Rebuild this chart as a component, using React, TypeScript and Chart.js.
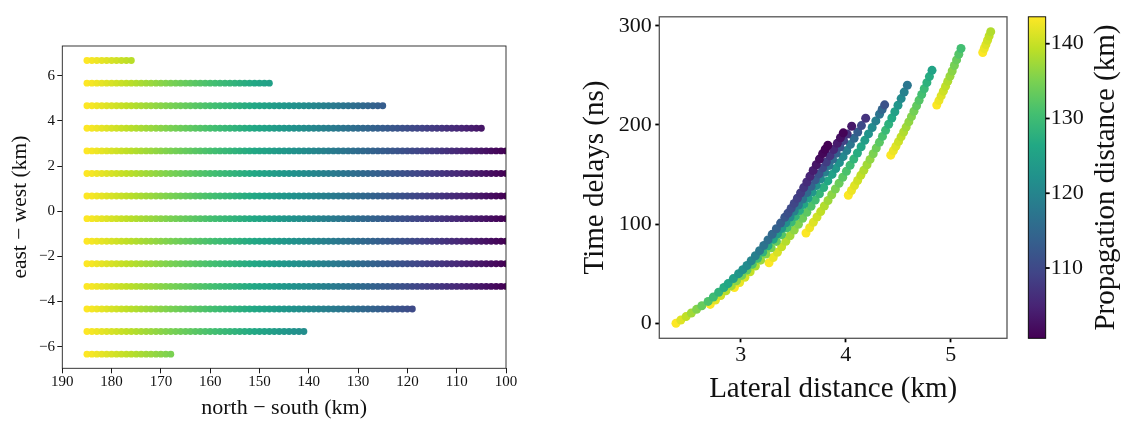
import React, { useEffect, useRef } from 'react';
import { Chart, registerables } from 'chart.js';

Chart.register(...registerables);

// ---------------- Left panel data ----------------
const rowEastWest = [6.67, 5.67, 4.67, 3.67, 2.67, 1.67, 0.67, -0.33, -1.33, -2.33, -3.33, -4.33, -5.33, -6.33];
const rowNorthSouthEnd = [176, 148, 125, 105, 100, 100, 100, 100, 100, 100, 100, 119, 141, 168];
const northSouthSamples = [
  185, 184, 183, 182, 181, 180, 179, 178, 177, 176, 175, 174, 173, 172, 171, 170, 169, 168, 167, 166,
  165, 164, 163, 162, 161, 160, 159, 158, 157, 156, 155, 154, 153, 152, 151, 150, 149, 148, 147, 146,
  145, 144, 143, 142, 141, 140, 139, 138, 137, 136, 135, 134, 133, 132, 131, 130, 129, 128, 127, 126,
  125, 124, 123, 122, 121, 120, 119, 118, 117, 116, 115, 114, 113, 112, 111, 110, 109, 108, 107, 106,
  105, 104, 103, 102, 101, 100,
];
const leftXTicks = [190, 180, 170, 160, 150, 140, 130, 120, 110, 100];
const leftYTicks = [-6, -4, -2, 0, 2, 4, 6];

// ---------------- Right panel data (lateral km, delay ns, propagation km) ----------------
const curveALat = [5.305, 5.32, 5.335, 5.351, 5.366, 5.381];
const curveADelay = [273, 277, 281, 285.3, 289.6, 294];
const curveAProp = [143.5, 142.5, 141.5, 140.5, 139.5, 138.5];

const curveBLat = [4.867, 4.888, 4.909, 4.93, 4.951, 4.972, 4.993, 5.014, 5.035, 5.056, 5.077, 5.098];
const curveBDelay = [220, 224.5, 229.2, 234, 238.9, 243.9, 249.1, 254.4, 259.9, 265.5, 271.2, 277];
const curveBProp = [143.5, 142.5, 141.5, 140.5, 139.5, 138.5, 137, 136, 134.5, 133.5, 132, 130.5];

const curveCLat = [4.429, 4.454, 4.478, 4.503, 4.527, 4.552, 4.576, 4.601, 4.626, 4.65, 4.675, 4.699, 4.724, 4.748, 4.773, 4.797, 4.822];
const curveCDelay = [169.5, 173.9, 178.4, 183.1, 187.9, 192.8, 197.8, 203, 208.3, 213.7, 219.2, 224.8, 230.6, 236.5, 242.6, 248.7, 255];
const curveCProp = [143.5, 142.5, 141.5, 140.5, 139.5, 138.5, 137.5, 136.5, 135.5, 134.5, 133, 132, 130.5, 129.5, 128, 127, 125.5];

const curveDLat = [4.025, 4.055, 4.084, 4.114, 4.144, 4.173, 4.203, 4.232, 4.262, 4.291, 4.321, 4.35, 4.38, 4.409, 4.439, 4.468, 4.498, 4.528, 4.557, 4.587];
const curveDDelay = [129, 133.8, 138.8, 143.9, 149.1, 154.3, 159.8, 165.2, 170.9, 176.6, 182.4, 188.4, 194.5, 200.6, 206.9, 213.3, 219.8, 226.5, 233.1, 240];
const curveDProp = [143.5, 142.5, 141.5, 140.5, 139.5, 138.5, 137.5, 136.5, 135, 134, 132.5, 131, 129.5, 128, 126.5, 125, 123, 121, 119.5, 117.5];

const curveELat = [3.622, 3.657, 3.692, 3.727, 3.762, 3.797, 3.832, 3.867, 3.902, 3.937, 3.972, 4.007, 4.042, 4.077, 4.112, 4.147, 4.182, 4.217, 4.252, 4.287, 4.322, 4.347, 4.371];
const curveEDelay = [91, 96.3, 101.7, 107.1, 112.6, 118.2, 123.8, 129.6, 135.4, 141.2, 147.2, 153.2, 159.3, 165.5, 171.7, 178, 184.4, 190.9, 197.4, 204, 210.7, 215.5, 220.2];
const curveEProp = [143.5, 142.5, 141.5, 140.5, 139.5, 138.5, 137.3, 136.1, 134.9, 133.7, 132.5, 131.2, 129.9, 128.6, 127.2, 125.8, 124.3, 122.7, 121, 119.1, 117, 114.5, 111.5];

const curveFLat = [3.27, 3.31, 3.35, 3.39, 3.43, 3.47, 3.51, 3.55, 3.59, 3.63, 3.67, 3.71, 3.75, 3.79, 3.83, 3.87, 3.905, 3.94, 3.975, 4.01, 4.045, 4.08, 4.115, 4.15, 4.19];
const curveFDelay = [61, 66.3, 71.6, 77, 82.6, 88.2, 94, 99.8, 105.8, 111.8, 117.9, 124.2, 130.5, 136.9, 143.5, 150.1, 156, 161.9, 168, 174.1, 180.3, 186.5, 192.8, 199.3, 206.7];
const curveFProp = [143.5, 142.3, 141.1, 139.9, 138.7, 137.5, 136.3, 135.1, 133.9, 132.7, 131.5, 130.2, 128.9, 127.6, 126.3, 125, 123.6, 122.2, 120.6, 119, 117.3, 115.3, 113, 110.2, 107];

const curveGLat = [2.94, 2.99, 3.04, 3.09, 3.14, 3.19, 3.24, 3.29, 3.34, 3.39, 3.44, 3.48, 3.52, 3.56, 3.6, 3.64, 3.68, 3.72, 3.76, 3.8, 3.84, 3.875, 3.91, 3.945, 3.98, 4.015, 4.057];
const curveGDelay = [36, 41.1, 46.4, 51.9, 57.6, 63.6, 69.7, 76, 82.5, 89.3, 96.2, 101.9, 107.7, 113.7, 119.8, 126, 132.3, 138.8, 145.4, 152.2, 159.1, 165.2, 171.4, 177.7, 184.1, 190.7, 198.6];
const curveGProp = [143.5, 142.3, 141, 139.7, 138.4, 137.1, 135.8, 134.5, 133.2, 131.9, 130.6, 129.5, 128.3, 127.1, 125.9, 124.6, 123.3, 122, 120.5, 119, 117.3, 115.5, 113.5, 111.3, 109, 106.5, 103.5];

const curveHLat = [2.71, 2.76, 2.81, 2.86, 2.91, 2.96, 3.01, 3.06, 3.11, 3.16, 3.21, 3.26, 3.31, 3.35, 3.39, 3.43, 3.47, 3.51, 3.55, 3.59, 3.63, 3.67, 3.71, 3.745, 3.78, 3.815, 3.85, 3.885, 3.92, 3.95, 3.977];
const curveHDelay = [19, 23.4, 27.9, 32.7, 37.6, 42.8, 48.2, 53.7, 59.5, 65.5, 71.7, 78.1, 84.7, 90.1, 95.6, 101.3, 107.1, 113.1, 119.1, 125.3, 131.7, 138.1, 144.7, 150.6, 156.6, 162.6, 168.8, 175.1, 181.4, 187, 192];
const curveHProp = [143.5, 142, 140.5, 139, 137.5, 136, 134.5, 133, 131.5, 130, 128.5, 127, 125.5, 124.3, 123, 121.8, 120.5, 119.3, 118, 116.7, 115.4, 114, 112.6, 111.2, 109.8, 108.3, 106.8, 105.3, 103.8, 102.4, 101];

const curveILat = [2.384, 2.43, 2.48, 2.53, 2.58, 2.63, 2.69, 2.74, 2.79, 2.84, 2.88, 2.93, 2.98, 3.02, 3.06, 3.1, 3.14, 3.18, 3.22, 3.26, 3.3, 3.34, 3.38, 3.42, 3.45, 3.48, 3.51, 3.54, 3.57, 3.6, 3.63, 3.66, 3.69, 3.72, 3.75, 3.78, 3.805, 3.83];
const curveIDelay = [0, 3.2, 6.7, 10.3, 14, 17.6, 22, 26.5, 31.2, 36, 40, 45, 50, 54, 58.2, 63, 68, 73.2, 78.5, 84, 89.6, 95.3, 101, 106.8, 111, 115.8, 120.8, 126, 131.3, 136.8, 142.4, 148.2, 154, 159.8, 165.5, 171, 175.4, 179.5];
const curveIProp = [143.5, 141.5, 139.5, 137.5, 135.5, 133.5, 131.5, 130, 128.5, 127, 126, 124.5, 123, 122, 121, 120, 119, 118, 117, 116, 115, 114, 113, 112, 111, 110.3, 109.5, 108.7, 108, 107.2, 106, 105, 104, 103, 102, 101.3, 100.9, 100.6];

const rightXTicks = [3, 4, 5];
const rightYTicks = [0, 100, 200, 300];
const propTicks = [110, 120, 130, 140];
const propMin = 100.6;
const propMax = 143.6;

// ---------------- Styling helpers ----------------
const SERIF = "'Liberation Serif', 'Times New Roman', serif";
const TEXT = '#111111';
const VIRIDIS = ['#440154', '#482475', '#414487', '#355f8d', '#2a788e', '#21918c', '#22a884', '#44bf70', '#7ad151', '#bddf26', '#fde725'];

function hexToRgb(h: string) {
  return [parseInt(h.slice(1, 3), 16), parseInt(h.slice(3, 5), 16), parseInt(h.slice(5, 7), 16)];
}
const VIRIDIS_RGB = VIRIDIS.map(hexToRgb);

function viridis(t: number) {
  const c = Math.max(0, Math.min(1, t)) * 10;
  const i = Math.min(9, Math.floor(c));
  const f = c - i;
  const a = VIRIDIS_RGB[i];
  const b = VIRIDIS_RGB[i + 1];
  const r = Math.round(a[0] + (b[0] - a[0]) * f);
  const g = Math.round(a[1] + (b[1] - a[1]) * f);
  const bl = Math.round(a[2] + (b[2] - a[2]) * f);
  return `rgb(${r},${g},${bl})`;
}

const fmt = (v: number) => (v < 0 ? '\u2212' + Math.abs(v) : String(v));

function framePlugin(color: string, width: number) {
  return {
    id: 'frame',
    afterDatasetsDraw(chart: any) {
      const { ctx, chartArea: a } = chart;
      ctx.save();
      ctx.strokeStyle = color;
      ctx.lineWidth = width;
      ctx.strokeRect(a.left, a.top, a.right - a.left, a.bottom - a.top);
      ctx.restore();
    },
  };
}

const colorbarPlugin = {
  id: 'colorbar',
  afterDraw(chart: any) {
    const { ctx, chartArea: a } = chart;
    const cb = chart.scales.cb;
    const x0 = a.right + 21.3;
    const w = 17.4;
    const top = cb.getPixelForValue(propMax);
    const bottom = cb.getPixelForValue(propMin);
    ctx.save();
    const grad = ctx.createLinearGradient(0, bottom, 0, top);
    VIRIDIS.forEach((c, i) => grad.addColorStop(i / 10, c));
    ctx.fillStyle = grad;
    ctx.fillRect(x0, top, w, bottom - top);
    ctx.strokeStyle = '#000';
    ctx.lineWidth = 0.9;
    ctx.strokeRect(x0, top, w, bottom - top);
    ctx.font = `22px ${SERIF}`;
    ctx.fillStyle = TEXT;
    ctx.textAlign = 'left';
    ctx.textBaseline = 'middle';
    propTicks.forEach((v) => {
      const y = cb.getPixelForValue(v);
      ctx.beginPath();
      ctx.lineWidth = 1.8;
      ctx.moveTo(x0 + w, y);
      ctx.lineTo(x0 + w + 4, y);
      ctx.stroke();
      ctx.fillText(String(v), x0 + w + 5, y);
    });
    ctx.translate(a.right + 99.7, (top + bottom) / 2);
    ctx.rotate(-Math.PI / 2);
    ctx.font = `29px ${SERIF}`;
    ctx.textAlign = 'center';
    ctx.fillText('Propagation distance (km)', 0, 0);
    ctx.restore();
  },
};

function buildLeftPoints() {
  const pts: { x: number; y: number }[] = [];
  rowEastWest.forEach((y, i) => {
    northSouthSamples.forEach((x) => {
      if (x >= rowNorthSouthEnd[i]) pts.push({ x, y });
    });
  });
  return pts;
}

function buildRightPoints() {
  const curves = [
    [curveALat, curveADelay, curveAProp],
    [curveBLat, curveBDelay, curveBProp],
    [curveCLat, curveCDelay, curveCProp],
    [curveDLat, curveDDelay, curveDProp],
    [curveELat, curveEDelay, curveEProp],
    [curveFLat, curveFDelay, curveFProp],
    [curveGLat, curveGDelay, curveGProp],
    [curveHLat, curveHDelay, curveHProp],
    [curveILat, curveIDelay, curveIProp],
  ];
  const pts: { x: number; y: number; p: number }[] = [];
  curves.forEach(([lat, delay, prop]) => {
    const n = Math.min(lat.length, delay.length, prop.length);
    for (let i = 0; i < n; i++) pts.push({ x: lat[i], y: delay[i], p: prop[i] });
  });
  return pts;
}

function tickGrid(len: number, width: number) {
  return { display: true, drawOnChartArea: false, drawTicks: true, tickLength: len, tickWidth: width, tickColor: '#000' };
}

export default function App() {
  const leftRef = useRef<HTMLCanvasElement>(null);
  const rightRef = useRef<HTMLCanvasElement>(null);

  useEffect(() => {
    const leftChart = new Chart(leftRef.current as HTMLCanvasElement, {
      type: 'scatter',
      data: {
        datasets: [
          {
            data: buildLeftPoints(),
            pointRadius: 3.45,
            pointBorderWidth: 0,
            pointBackgroundColor: (ctx: any) => (ctx.raw ? viridis((ctx.raw.x - 100) / 85) : '#000'),
            pointBorderColor: 'rgba(0,0,0,0)',
            clip: 0,
          } as any,
        ],
      },
      options: {
        responsive: false,
        devicePixelRatio: 1,
        animation: false,
        events: [],
        layout: { autoPadding: false, padding: { left: 0, top: 46, right: 24, bottom: 0 } } as any,
        plugins: { legend: { display: false }, tooltip: { enabled: false } },
        scales: {
          x: {
            type: 'linear',
            min: 100,
            max: 190,
            reverse: true,
            afterBuildTicks: (s: any) => { s.ticks = leftXTicks.map((v) => ({ value: v })); },
            afterFit: (s: any) => { s.height = 52.7; },
            grid: tickGrid(5, 0.9),
            border: { display: false },
            ticks: { font: { family: SERIF, size: 15 }, color: TEXT, padding: 0, maxRotation: 0, autoSkip: false, callback: (v: any) => fmt(Number(v)) },
            title: { display: true, text: 'north \u2212 south (km)', font: { family: SERIF, size: 22 }, color: TEXT, padding: { top: 0, bottom: 0 } },
          },
          y: {
            type: 'linear',
            min: -6.957,
            max: 7.315,
            afterBuildTicks: (s: any) => { s.ticks = leftYTicks.map((v) => ({ value: v })); },
            afterFit: (s: any) => { s.width = 62.3; },
            grid: tickGrid(5, 0.9),
            border: { display: false },
            ticks: { font: { family: SERIF, size: 15 }, color: TEXT, padding: 2.3, autoSkip: false, callback: (v: any) => fmt(Number(v)) },
            title: { display: true, text: 'east \u2212 west (km)', font: { family: SERIF, size: 21.5 }, color: TEXT, padding: { top: 7, bottom: 0 } },
          },
        },
      } as any,
      plugins: [framePlugin('#222', 0.9)],
    });

    const rightChart = new Chart(rightRef.current as HTMLCanvasElement, {
      type: 'scatter',
      data: {
        datasets: [
          {
            data: buildRightPoints(),
            pointRadius: 4.5,
            pointBorderWidth: 0,
            pointBackgroundColor: (ctx: any) => (ctx.raw ? viridis((ctx.raw.p - propMin) / (propMax - propMin)) : '#000'),
            pointBorderColor: 'rgba(0,0,0,0)',
          } as any,
        ],
      },
      options: {
        responsive: false,
        devicePixelRatio: 1,
        animation: false,
        events: [],
        layout: { autoPadding: false, padding: { left: 0, top: 4.7, right: 116, bottom: 0 } } as any,
        plugins: { legend: { display: false }, tooltip: { enabled: false } },
        scales: {
          x: {
            type: 'linear',
            min: 2.225,
            max: 5.536,
            afterBuildTicks: (s: any) => { s.ticks = rightXTicks.map((v) => ({ value: v })); },
            afterFit: (s: any) => { s.height = 82.7; },
            grid: tickGrid(4, 1.8),
            border: { display: false },
            ticks: { font: { family: SERIF, size: 22 }, color: TEXT, padding: 0, maxRotation: 0, autoSkip: false, callback: (v: any) => fmt(Number(v)) },
            title: { display: true, text: 'Lateral distance (km)', font: { family: SERIF, size: 29 }, color: TEXT, padding: { top: 0, bottom: 14.5 } },
          },
          y: {
            type: 'linear',
            min: -15.2,
            max: 309,
            afterBuildTicks: (s: any) => { s.ticks = rightYTicks.map((v) => ({ value: v })); },
            afterFit: (s: any) => { s.width = 99.3; },
            grid: tickGrid(4, 1.8),
            border: { display: false },
            ticks: { font: { family: SERIF, size: 22 }, color: TEXT, padding: 3.6, autoSkip: false, callback: (v: any) => fmt(Number(v)) },
            title: { display: true, text: 'Time delays (ns)', font: { family: SERIF, size: 29 }, color: TEXT, padding: { top: 17.5, bottom: 0 } },
          },
          cb: {
            type: 'linear',
            axis: 'y',
            position: 'right',
            display: false,
            min: propMin,
            max: propMax,
          },
        },
      } as any,
      plugins: [framePlugin('#555', 1.3), colorbarPlugin],
    });

    return () => {
      leftChart.destroy();
      rightChart.destroy();
    };
  }, []);

  return (
    <div style={{ position: 'absolute', left: 0, top: 0, width: 1123, height: 421, background: '#fff', overflow: 'hidden' }}>
      <canvas ref={leftRef} width={530} height={421} style={{ position: 'absolute', left: 0, top: 0 }} />
      <canvas ref={rightRef} width={563} height={421} style={{ position: 'absolute', left: 560, top: 0 }} />
    </div>
  );
}
